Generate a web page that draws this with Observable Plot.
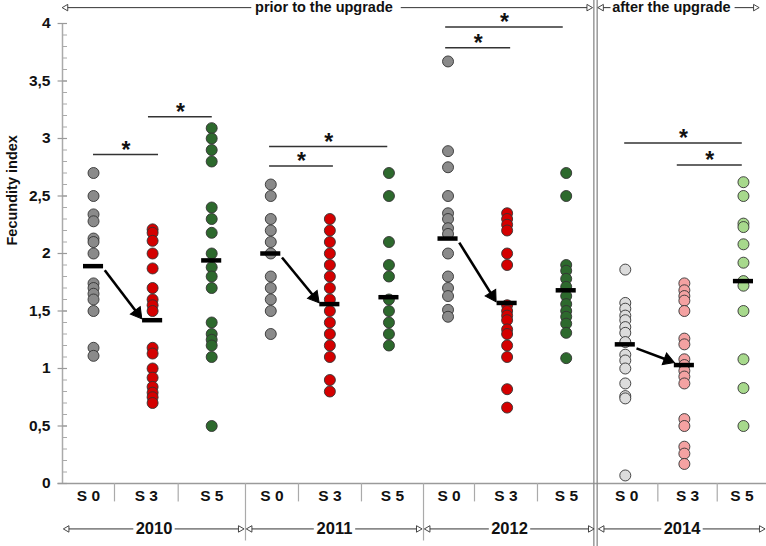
<!DOCTYPE html>
<html><head><meta charset="utf-8">
<script src="https://cdn.jsdelivr.net/npm/d3@7"></script>
<script src="https://cdn.jsdelivr.net/npm/@observablehq/plot@0.6"></script>
<style>
body{margin:0;background:#fff;}
#chart{width:766px;height:546px;}
</style>
</head><body><div id="chart"></div>
<script>
// ---------- data ----------
const years = ["2010", "2011", "2012", "2014"];
const sites = ["S 0", "S 3", "S 5"];
const periods = ["prior to the upgrade", "after the upgrade"];
const yLabel = "Fecundity index";
const yTicks = [0, 0.5, 1, 1.5, 2, 2.5, 3, 3.5, 4];

const v2010_S0 = [2.70, 2.50, 2.34, 2.28, 2.13, 2.10, 2.00, 1.74, 1.70, 1.65, 1.60, 1.50, 1.18, 1.11];
const v2010_S3 = [2.21, 2.18, 2.11, 2.00, 1.87, 1.70, 1.60, 1.55, 1.50, 1.18, 1.13, 1.00, 0.92, 0.84, 0.79, 0.75, 0.70];
const v2010_S5 = [3.09, 3.00, 2.90, 2.80, 2.40, 2.30, 2.18, 2.00, 1.88, 1.80, 1.70, 1.40, 1.30, 1.25, 1.20, 1.10, 0.50];
const v2011_S0 = [2.60, 2.50, 2.30, 2.20, 2.10, 2.00, 1.80, 1.70, 1.60, 1.50, 1.30];
const v2011_S3 = [2.30, 2.20, 2.10, 2.00, 1.90, 1.80, 1.70, 1.60, 1.50, 1.40, 1.30, 1.20, 1.10, 0.90, 0.80];
const v2011_S5 = [2.70, 2.50, 2.10, 1.90, 1.80, 1.60, 1.50, 1.40, 1.30, 1.20];
const v2012_S0 = [3.67, 2.89, 2.75, 2.50, 2.35, 2.30, 2.22, 2.17, 2.00, 1.80, 1.70, 1.63, 1.51, 1.45];
const v2012_S3 = [2.35, 2.30, 2.25, 2.20, 2.00, 1.90, 1.55, 1.50, 1.46, 1.42, 1.34, 1.30, 1.20, 1.10, 0.82, 0.66];
const v2012_S5 = [2.70, 2.50, 1.90, 1.85, 1.78, 1.71, 1.63, 1.56, 1.50, 1.45, 1.39, 1.31, 1.09];
const v2014_S0 = [1.86, 1.57, 1.52, 1.46, 1.42, 1.36, 1.31, 1.23, 1.12, 1.07, 1.00, 0.87, 0.76, 0.74, 0.07];
const v2014_S3 = [1.74, 1.68, 1.63, 1.59, 1.50, 1.26, 1.21, 1.08, 1.03, 0.98, 0.93, 0.87, 0.56, 0.50, 0.32, 0.26, 0.17];
const v2014_S5 = [2.62, 2.50, 2.26, 2.23, 2.08, 1.92, 1.76, 1.72, 1.50, 1.08, 0.83, 0.50];

// mean bar per group, in group order
const means = [1.89, 1.42, 1.94, 2.00, 1.56, 1.62, 2.13, 1.57, 1.68, 1.21, 1.03, 1.76];

// significance brackets: from group position, to group position, level
const bracketFrom  = [0.00, 0.93, 2.98, 2.98, 5.96, 5.96, 8.99, 9.88];
const bracketTo    = [1.10, 2.01, 4.06, 4.98, 7.06, 7.95, 10.98, 10.98];
const bracketLevel = [2.86, 3.19, 2.76, 2.93, 3.79, 3.97, 2.96, 2.77];

// ---------- build tables ----------
const groupValues = [v2010_S0, v2010_S3, v2010_S5, v2011_S0, v2011_S3, v2011_S5,
                     v2012_S0, v2012_S3, v2012_S5, v2014_S0, v2014_S3, v2014_S5];
const colorsPrior = ["#8a8a8a", "#d40000", "#2d692d"];
const colorsAfter = ["#dcdcdc", "#f4a2a2", "#a7d98c"];

const points = [];
groupValues.forEach((vals, g) => {
  const yi = Math.floor(g / 3), si = g % 3;
  const col = years[yi] === "2014" ? colorsAfter[si] : colorsPrior[si];
  vals.forEach(v => points.push({i: g, v, col}));
});
const meanRows = means.map((m, g) => ({i: g, m}));
const bracketRows = bracketFrom.map((f, k) => ({x1: f, x2: bracketTo[k], y: bracketLevel[k]}));

// layout (group-position units)
const W = 766, H = 546, ML = 62, MR = 0, MT = 23, MB = 63;
const L = -0.525, R = 11.39;
const kx = (W - ML - MR) / (R - L);      // px per x unit
const ky = (H - MT - MB) / 4;            // px per y unit
const smallSeps = [0.355, 1.433, 3.469, 4.535, 6.448, 7.514, 9.551, 10.556];
const yearSeps = [2.572, 5.585];
const upgradeSep = 8.496;
const cellBounds = [L, 0.355, 1.433, 2.572, 3.469, 4.535, 5.585, 6.448, 7.514, 8.496, 9.551, 10.556, R];
const catLabels = [];
for (let k = 0; k < 12; k++) catLabels.push({x: (cellBounds[k] + cellBounds[k + 1]) / 2, t: sites[k % 3]});
const yearBounds = [[L, 2.572], [2.572, 5.585], [5.585, 8.496], [8.53, R]];
const yearRows = years.map((y, k) => ({t: y, a: yearBounds[k][0], b: yearBounds[k][1], c: (yearBounds[k][0] + yearBounds[k][1]) / 2}));
const fmt = d => String(d).replace(".", ",");
const FONT = "Liberation Sans, Arial, Helvetica, sans-serif";
const YCAT = -0.105, YYEAR = -0.395, YTOP = 4.138;

// arrows: shaft (link) + triangular head (dot symbol) pointing to (x2,y2)
function arrowParts(rows, headBack) {
  return rows.map(d => {
    const dxp = (d.x2 - d.x1) * kx, dyp = -(d.y2 - d.y1) * ky;
    const len = Math.hypot(dxp, dyp), ux = dxp / len, uy = dyp / len;
    const ang = Math.atan2(dyp, dxp) * 180 / Math.PI;
    return {
      x1: d.x1, y1: d.y1,
      xs: d.x2 - ux * headBack * 1.2 / kx, ys: d.y2 + uy * headBack * 1.2 / ky,
      xh: d.x2 - ux * headBack / kx, yh: d.y2 + uy * headBack / ky,
      rot: ang + 90
    };
  });
}
const meanArrows = arrowParts(years.map((y, k) => ({
  x1: k * 3 + 0.19, y1: means[k * 3] - 0.035, x2: k * 3 + 0.79, y2: means[k * 3 + 1] + 0.03
})), 4.5);

const thinRows = [];
yearRows.forEach(r => {
  thinRows.push({x1: r.c - 0.35, x2: r.a + 0.04, y1: YYEAR, y2: YYEAR});
  thinRows.push({x1: r.c + 0.35, x2: r.b - 0.05, y1: YYEAR, y2: YYEAR});
});
thinRows.push({x1: 2.67, x2: L + 0.02, y1: YTOP, y2: YTOP});
thinRows.push({x1: 5.2, x2: 8.42, y1: YTOP, y2: YTOP});
thinRows.push({x1: 8.75, x2: 8.56, y1: YTOP, y2: YTOP});
thinRows.push({x1: 10.85, x2: 11.24, y1: YTOP, y2: YTOP});
const thinArrows = arrowParts(thinRows, 2.2);

const chart = Plot.plot({
  width: W, height: H,
  marginLeft: ML, marginRight: MR, marginTop: MT, marginBottom: MB,
  x: {domain: [L, R], axis: null},
  y: {domain: [0, 4], axis: null},
  style: {fontFamily: FONT, background: "#fff", overflow: "visible"},
  marks: [
    // axes
    Plot.ruleY([0], {x1: -0.6, x2: R, stroke: "#9a9a9a", strokeWidth: 1.5}),
    Plot.ruleX([L], {y1: 0, y2: 4, stroke: "#aaaaaa", strokeWidth: 1.5}),
    Plot.ruleY(d3.range(0, 41).map(k => k / 10), {x1: L, x2: -0.44, stroke: "#aaaaaa"}),
    Plot.ruleY(yTicks, {x1: -0.6, x2: -0.44, stroke: "#9a9a9a", strokeWidth: 1.2}),
    Plot.text(yTicks, {x: L, y: d => d, text: fmt, textAnchor: "end", dx: -12, fontSize: 15.5, fontWeight: "bold", fill: "#111"}),
    Plot.text([yLabel], {frameAnchor: "left", dx: -50, dy: -8, rotate: -90, fontSize: 14.5, fontWeight: "bold", fill: "#111"}),
    // separators
    Plot.ruleX(smallSeps, {y1: 0, y2: -0.16, stroke: "#aaaaaa", strokeWidth: 1.2}),
    Plot.ruleX(yearSeps, {y1: 0, y2: -0.5, stroke: "#aaaaaa", strokeWidth: 1.2}),
    Plot.ruleX([upgradeSep - 0.028, upgradeSep + 0.028], {y1: -0.56, y2: 4.21, stroke: "#8a8a8a", strokeWidth: 1.3}),
    // data
    Plot.dot(points, {x: "i", y: "v", r: 5.5, fill: "col", stroke: "#333", strokeWidth: 0.9}),
    Plot.ruleY(meanRows, {y: "m", x1: d => d.i - 0.17, x2: d => d.i + 0.17, stroke: "#000", strokeWidth: 4.5}),
    Plot.link(meanArrows, {x1: "x1", y1: "y1", x2: "xs", y2: "ys", stroke: "#000", strokeWidth: 2.6}),
    Plot.dot(meanArrows, {x: "xh", y: "yh", symbol: "triangle", rotate: "rot", r: 4.6, fill: "#000", stroke: "#000", strokeWidth: 1}),
    // significance
    Plot.ruleY(bracketRows, {y: "y", x1: "x1", x2: "x2", stroke: "#333", strokeWidth: 1.5}),
    Plot.text(bracketRows, {x: d => (d.x1 + d.x2) / 2, y: "y", text: () => "*", dy: -4, fontSize: 23, fontWeight: "bold", fill: "#111"}),
    // category labels
    Plot.text(catLabels, {x: "x", y: YCAT, text: "t", fontSize: 15.5, fontWeight: "bold", fill: "#111"}),
    // year labels and period labels
    Plot.text(yearRows, {x: "c", y: YYEAR, text: "t", fontSize: 16.5, fontWeight: "bold", fill: "#111"}),
    Plot.text([periods[0]], {x: 3.9, y: YTOP, text: d => d, fontSize: 14.5, fontWeight: "bold", fill: "#111"}),
    Plot.text([periods[1]], {x: 9.78, y: YTOP, text: d => d, fontSize: 14.5, fontWeight: "bold", fill: "#111"}),
    // thin arrows with small hollow heads
    Plot.link(thinArrows, {x1: "x1", y1: "y1", x2: "xs", y2: "ys", stroke: "#333", strokeWidth: 1}),
    Plot.dot(thinArrows, {x: "xh", y: "yh", symbol: "triangle", rotate: "rot", r: 2.4, fill: "#fff", stroke: "#333", strokeWidth: 0.9})
  ]
});
document.getElementById("chart").appendChild(chart);
</script>
</body></html>
